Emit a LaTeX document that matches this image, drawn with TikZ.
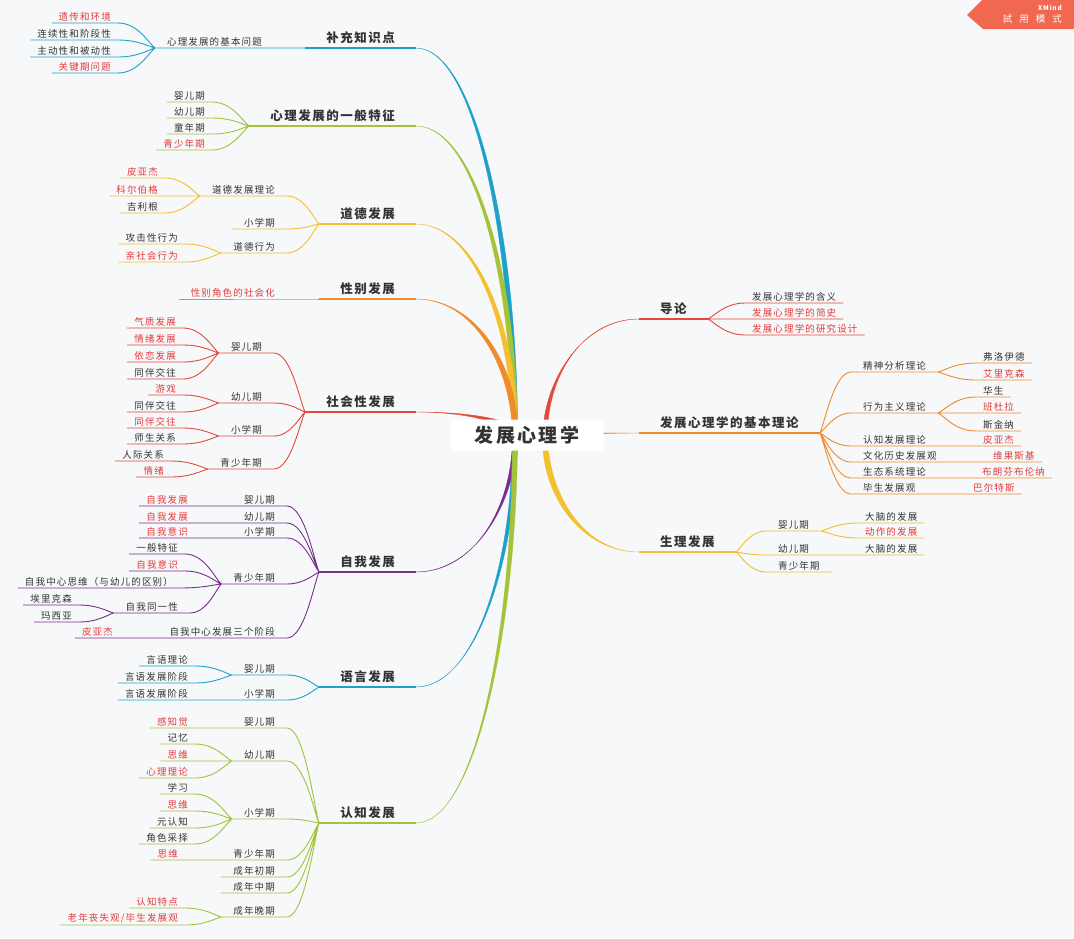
\documentclass[tikz,border=0pt]{standalone}
\usepackage{fontspec}
\setmainfont{Noto Sans CJK SC}[LetterSpace=12]
\usepackage{tikz}
\usetikzlibrary{calc}
\definecolor{ink}{HTML}{333333}
\definecolor{hot}{HTML}{E33B3B}
\definecolor{paper}{HTML}{F7F8FA}
\definecolor{cBlue}{HTML}{1EA1C8}
\definecolor{cLime}{HTML}{A5C23A}
\definecolor{cGold}{HTML}{F4C02F}
\definecolor{cOrange}{HTML}{EF8B2B}
\definecolor{cRed}{HTML}{E24A3B}
\definecolor{cPurple}{HTML}{7B2D8E}
\definecolor{cTag}{HTML}{F2674F}

\begin{document}
\begin{tikzpicture}[x=1pt, y=-1pt,
  every node/.style={text=ink},
  root/.style={fill=white, rounded corners=2pt, minimum width=153pt, minimum height=31pt,
               inner sep=0pt, font=\fontsize{19}{22}\selectfont\bfseries},
  main/.style={inner xsep=21pt, inner ysep=4pt, font=\fontsize{12.5}{15}\selectfont\bfseries},
  sub/.style={inner xsep=12pt, inner ysep=1.5pt, font=\fontsize{9.5}{11}\selectfont},
  leaf/.style={sub, inner xsep=7pt},
  L/.style={anchor=south east}, R/.style={anchor=south west},
  hot/.style={text=hot},
  twig/.style={line width=0.9pt},
  stem/.style={line width=1.4pt},
  fan/.style={to path={.. controls ($(\tikztostart)!0.15!(\tikztotarget)$)
              and ($(\tikztotarget)!0.55!(\tikztostart |- \tikztotarget)$) .. (\tikztotarget)}},
  bough/.style={line width=1.2pt, line join=round, to path={($(\tikztostart)+(-2.5,2.5)$)
              .. controls ($(\tikztostart)!0.5!(\tikztostart |- \tikztotarget)+(-2.5,2.5)$)
              and ($(\tikztotarget)!0.6!(\tikztostart |- \tikztotarget)$) .. (\tikztotarget)
              .. controls ($(\tikztotarget)!0.6!(\tikztostart |- \tikztotarget)$)
              and ($(\tikztostart)!0.5!(\tikztostart |- \tikztotarget)+(2.5,-2.5)$)
              .. ($(\tikztostart)+(2.5,-2.5)$) -- cycle}}]
\useasboundingbox (0,0) rectangle (1074,938);
\fill[paper] (0,0) rectangle (1074,938);
\coordinate (cl) at (515,435);
\coordinate (cr) at (545,437);

\node[main, L] (bz) at (416,48) {补充知识点};
\node[sub, L] (bz1) at (274,48) {心理发展的基本问题};
\node[leaf, L, hot] (bz11) at (118,23) {遗传和环境};
\node[leaf, L] (bz12) at (118,40) {连续性和阶段性};
\node[leaf, L] (bz13) at (118,57) {主动性和被动性};
\node[leaf, L, hot] (bz14) at (118,73) {关键期问题};

\node[main, L] (yb) at (416,126) {心理发展的一般特征};
\node[leaf, L] (yb1) at (212,102) {婴儿期};
\node[leaf, L] (yb2) at (212,118) {幼儿期};
\node[leaf, L] (yb3) at (212,134) {童年期};
\node[leaf, L, hot] (yb4) at (212,150) {青少年期};

\node[main, L] (db) at (416,224) {道德发展};
\node[sub, L] (db1) at (287,196) {道德发展理论};
\node[leaf, L, hot] (db11) at (165,178) {皮亚杰};
\node[leaf, L, hot] (db12) at (165,196) {科尔伯格};
\node[leaf, L] (db13) at (165,213) {吉利根};
\node[sub, L] (db2) at (287,229) {小学期};
\node[sub, L] (db3) at (287,253) {道德行为};
\node[leaf, L] (db31) at (185,244) {攻击性行为};
\node[leaf, L, hot] (db32) at (185,262) {亲社会行为};

\node[main, L] (xb) at (416,299) {性别发展};
\node[sub, L, hot] (xb1) at (287,299) {性别角色的社会化};

\node[main, L] (sh) at (416,412) {社会性发展};
\node[sub, L] (sh1) at (274,353) {婴儿期};
\node[leaf, L, hot] (sh11) at (183,328) {气质发展};
\node[leaf, L, hot] (sh12) at (183,345) {情绪发展};
\node[leaf, L, hot] (sh13) at (183,362) {依恋发展};
\node[leaf, L] (sh14) at (183,379) {同伴交往};
\node[sub, L] (sh2) at (274,403) {幼儿期};
\node[leaf, L, hot] (sh21) at (183,395) {游戏};
\node[leaf, L] (sh22) at (183,412) {同伴交往};
\node[sub, L] (sh3) at (274,436) {小学期};
\node[leaf, L, hot] (sh31) at (183,428) {同伴交往};
\node[leaf, L] (sh32) at (183,444) {师生关系};
\node[sub, L] (sh4) at (274,469) {青少年期};
\node[leaf, L] (sh41) at (171,461) {人际关系};
\node[leaf, L, hot] (sh42) at (171,477) {情绪};

\node[main, L] (zw) at (416,572) {自我发展};
\node[sub, L] (zw1) at (287,506) {婴儿期};
\node[leaf, L, hot] (zw11) at (195,506) {自我发展};
\node[sub, L] (zw2) at (287,523) {幼儿期};
\node[leaf, L, hot] (zw21) at (195,523) {自我发展};
\node[sub, L] (zw3) at (287,538) {小学期};
\node[leaf, L, hot] (zw31) at (195,538) {自我意识};
\node[sub, L] (zw4) at (287,584) {青少年期};
\node[leaf, L] (zw41) at (185,554) {一般特征};
\node[leaf, L, hot] (zw42) at (185,571) {自我意识};
\node[leaf, L] (zw43) at (180,588) {自我中心思维（与幼儿的区别）};
\node[sub, L] (zw44) at (190,613) {自我同一性};
\node[leaf, L] (zw441) at (79,605) {埃里克森};
\node[leaf, L] (zw442) at (79,622) {玛西亚};
\node[sub, L] (zw5) at (287,638) {自我中心发展三个阶段};
\node[leaf, L, hot] (zw51) at (120,638) {皮亚杰};

\node[main, L] (yy) at (416,687) {语言发展};
\node[sub, L] (yy1) at (287,675) {婴儿期};
\node[leaf, L] (yy11) at (195,666) {言语理论};
\node[leaf, L] (yy12) at (195,683) {言语发展阶段};
\node[sub, L] (yy2) at (287,700) {小学期};
\node[leaf, L] (yy21) at (195,700) {言语发展阶段};

\node[main, L] (rz) at (416,823) {认知发展};
\node[sub, L] (rz1) at (287,728) {婴儿期};
\node[leaf, L, hot] (rz11) at (195,728) {感知觉};
\node[sub, L] (rz2) at (287,761) {幼儿期};
\node[leaf, L] (rz21) at (195,744) {记忆};
\node[leaf, L, hot] (rz22) at (195,761) {思维};
\node[leaf, L, hot] (rz23) at (195,778) {心理理论};
\node[sub, L] (rz3) at (287,819) {小学期};
\node[leaf, L] (rz31) at (195,794) {学习};
\node[leaf, L, hot] (rz32) at (195,811) {思维};
\node[leaf, L] (rz33) at (195,828) {元认知};
\node[leaf, L] (rz34) at (195,844) {角色采择};
\node[sub, L] (rz4) at (287,860) {青少年期};
\node[leaf, L, hot] (rz41) at (185,860) {思维};
\node[sub, L] (rz5) at (287,877) {成年初期};
\node[sub, L] (rz6) at (287,893) {成年中期};
\node[sub, L] (rz7) at (287,917) {成年晚期};
\node[leaf, L, hot] (rz71) at (185,908) {认知特点};
\node[leaf, L, hot] (rz72) at (185,925) {老年丧失观/毕生发展观};

\node[main, R] (dl) at (639,319) {导论};
\node[leaf, R] (dl1) at (745,303) {发展心理学的含义};
\node[leaf, R, hot] (dl2) at (745,319) {发展心理学的简史};
\node[leaf, R, hot] (dl3) at (745,335) {发展心理学的研究设计};

\node[main, R] (jb) at (639,433) {发展心理学的基本理论};
\node[sub, R] (jb1) at (851,372) {精神分析理论};
\node[leaf, R] (jb11) at (976,363) {弗洛伊德};
\node[leaf, R, hot] (jb12) at (976,380) {艾里克森};
\node[sub, R] (jb2) at (851,413) {行为主义理论};
\node[leaf, R] (jb21) at (976,397) {华生};
\node[leaf, R, hot] (jb22) at (976,413) {班杜拉};
\node[leaf, R] (jb23) at (976,431) {斯金纳};
\node[sub, R] (jb3) at (851,446) {认知发展理论};
\node[leaf, R, hot] (jb31) at (976,446) {皮亚杰};
\node[sub, R] (jb4) at (851,462) {文化历史发展观};
\node[leaf, R, hot] (jb41) at (986,462) {维果斯基};
\node[sub, R] (jb5) at (851,478) {生态系统理论};
\node[leaf, R, hot] (jb51) at (975,478) {布朗芬布伦纳};
\node[sub, R] (jb6) at (851,494) {毕生发展观};
\node[leaf, R, hot] (jb61) at (966,494) {巴尔特斯};

\node[main, R] (sl) at (639,552) {生理发展};
\node[sub, R] (sl1) at (766,531) {婴儿期};
\node[leaf, R] (sl11) at (858,523) {大脑的发展};
\node[leaf, R, hot] (sl12) at (858,538) {动作的发展};
\node[sub, R] (sl2) at (766,555) {幼儿期};
\node[leaf, R] (sl21) at (858,555) {大脑的发展};
\node[sub, R] (sl3) at (766,572) {青少年期};

\filldraw[cBlue] (cl) to[bough] (bz.south east);
\filldraw[cLime] (cl) to[bough] (yb.south east);
\filldraw[cGold] (cl) to[bough] (db.south east);
\filldraw[cOrange] (cl) to[bough] (xb.south east);
\filldraw[cRed] (cl) to[bough] (sh.south east);
\filldraw[cPurple] (cl) to[bough] (zw.south east);
\filldraw[cBlue] (cl) to[bough] (yy.south east);
\filldraw[cLime] (cl) to[bough] (rz.south east);
\filldraw[cRed] (cr) to[bough] (dl.south west);
\filldraw[cOrange] (cr) to[bough] (jb.south west);
\filldraw[cGold] (cr) to[bough] (sl.south west);

\draw[stem, cBlue] (bz.south east) -- (bz.south west);
\draw[twig, cBlue] (bz.south west) to[fan] (bz1.south east) -- (bz1.south west)
  (bz1.south west) to[fan] (bz11.south east) -- (bz11.south west)
  (bz1.south west) to[fan] (bz12.south east) -- (bz12.south west)
  (bz1.south west) to[fan] (bz13.south east) -- (bz13.south west)
  (bz1.south west) to[fan] (bz14.south east) -- (bz14.south west);

\draw[stem, cLime] (yb.south east) -- (yb.south west);
\draw[twig, cLime] (yb.south west) to[fan] (yb1.south east) -- (yb1.south west)
  (yb.south west) to[fan] (yb2.south east) -- (yb2.south west)
  (yb.south west) to[fan] (yb3.south east) -- (yb3.south west)
  (yb.south west) to[fan] (yb4.south east) -- (yb4.south west);

\draw[stem, cGold] (db.south east) -- (db.south west);
\draw[twig, cGold] (db.south west) to[fan] (db1.south east) -- (db1.south west)
  (db1.south west) to[fan] (db11.south east) -- (db11.south west)
  (db1.south west) to[fan] (db12.south east) -- (db12.south west)
  (db1.south west) to[fan] (db13.south east) -- (db13.south west)
  (db.south west) to[fan] (db2.south east) -- (db2.south west)
  (db.south west) to[fan] (db3.south east) -- (db3.south west)
  (db3.south west) to[fan] (db31.south east) -- (db31.south west)
  (db3.south west) to[fan] (db32.south east) -- (db32.south west);

\draw[stem, cOrange] (xb.south east) -- (xb.south west);
\draw[twig, cOrange] (xb.south west) to[fan] (xb1.south east) -- (xb1.south west);

\draw[stem, cRed] (sh.south east) -- (sh.south west);
\draw[twig, cRed] (sh.south west) to[fan] (sh1.south east) -- (sh1.south west)
  (sh1.south west) to[fan] (sh11.south east) -- (sh11.south west)
  (sh1.south west) to[fan] (sh12.south east) -- (sh12.south west)
  (sh1.south west) to[fan] (sh13.south east) -- (sh13.south west)
  (sh1.south west) to[fan] (sh14.south east) -- (sh14.south west)
  (sh.south west) to[fan] (sh2.south east) -- (sh2.south west)
  (sh2.south west) to[fan] (sh21.south east) -- (sh21.south west)
  (sh2.south west) to[fan] (sh22.south east) -- (sh22.south west)
  (sh.south west) to[fan] (sh3.south east) -- (sh3.south west)
  (sh3.south west) to[fan] (sh31.south east) -- (sh31.south west)
  (sh3.south west) to[fan] (sh32.south east) -- (sh32.south west)
  (sh.south west) to[fan] (sh4.south east) -- (sh4.south west)
  (sh4.south west) to[fan] (sh41.south east) -- (sh41.south west)
  (sh4.south west) to[fan] (sh42.south east) -- (sh42.south west);

\draw[stem, cPurple] (zw.south east) -- (zw.south west);
\draw[twig, cPurple] (zw.south west) to[fan] (zw1.south east) -- (zw1.south west)
  (zw1.south west) -- (zw11.south east) -- (zw11.south west)
  (zw.south west) to[fan] (zw2.south east) -- (zw2.south west)
  (zw2.south west) -- (zw21.south east) -- (zw21.south west)
  (zw.south west) to[fan] (zw3.south east) -- (zw3.south west)
  (zw3.south west) -- (zw31.south east) -- (zw31.south west)
  (zw.south west) to[fan] (zw4.south east) -- (zw4.south west)
  (zw4.south west) to[fan] (zw41.south east) -- (zw41.south west)
  (zw4.south west) to[fan] (zw42.south east) -- (zw42.south west)
  (zw4.south west) to[fan] (zw43.south east) -- (zw43.south west)
  (zw4.south west) to[fan] (zw44.south east) -- (zw44.south west)
  (zw44.south west) to[fan] (zw441.south east) -- (zw441.south west)
  (zw44.south west) to[fan] (zw442.south east) -- (zw442.south west)
  (zw.south west) to[fan] (zw5.south east) -- (zw5.south west)
  (zw5.south west) -- (zw51.south east) -- (zw51.south west);

\draw[stem, cBlue] (yy.south east) -- (yy.south west);
\draw[twig, cBlue] (yy.south west) to[fan] (yy1.south east) -- (yy1.south west)
  (yy1.south west) to[fan] (yy11.south east) -- (yy11.south west)
  (yy1.south west) to[fan] (yy12.south east) -- (yy12.south west)
  (yy.south west) to[fan] (yy2.south east) -- (yy2.south west)
  (yy2.south west) -- (yy21.south east) -- (yy21.south west);

\draw[stem, cLime] (rz.south east) -- (rz.south west);
\draw[twig, cLime] (rz.south west) to[fan] (rz1.south east) -- (rz1.south west)
  (rz1.south west) -- (rz11.south east) -- (rz11.south west)
  (rz.south west) to[fan] (rz2.south east) -- (rz2.south west)
  (rz2.south west) to[fan] (rz21.south east) -- (rz21.south west)
  (rz2.south west) to[fan] (rz22.south east) -- (rz22.south west)
  (rz2.south west) to[fan] (rz23.south east) -- (rz23.south west)
  (rz.south west) to[fan] (rz3.south east) -- (rz3.south west)
  (rz3.south west) to[fan] (rz31.south east) -- (rz31.south west)
  (rz3.south west) to[fan] (rz32.south east) -- (rz32.south west)
  (rz3.south west) to[fan] (rz33.south east) -- (rz33.south west)
  (rz3.south west) to[fan] (rz34.south east) -- (rz34.south west)
  (rz.south west) to[fan] (rz4.south east) -- (rz4.south west)
  (rz4.south west) -- (rz41.south east) -- (rz41.south west)
  (rz.south west) to[fan] (rz5.south east) -- (rz5.south west)
  (rz.south west) to[fan] (rz6.south east) -- (rz6.south west)
  (rz.south west) to[fan] (rz7.south east) -- (rz7.south west)
  (rz7.south west) to[fan] (rz71.south east) -- (rz71.south west)
  (rz7.south west) to[fan] (rz72.south east) -- (rz72.south west);

\draw[stem, cRed] (dl.south west) -- (dl.south east);
\draw[twig, cRed] (dl.south east) to[fan] (dl1.south west) -- (dl1.south east)
  (dl.south east) to[fan] (dl2.south west) -- (dl2.south east)
  (dl.south east) to[fan] (dl3.south west) -- (dl3.south east);

\draw[stem, cOrange] (jb.south west) -- (jb.south east);
\draw[twig, cOrange] (jb.south east) to[fan] (jb1.south west) -- (jb1.south east)
  (jb1.south east) to[fan] (jb11.south west) -- (jb11.south east)
  (jb1.south east) to[fan] (jb12.south west) -- (jb12.south east)
  (jb.south east) to[fan] (jb2.south west) -- (jb2.south east)
  (jb2.south east) to[fan] (jb21.south west) -- (jb21.south east)
  (jb2.south east) to[fan] (jb22.south west) -- (jb22.south east)
  (jb2.south east) to[fan] (jb23.south west) -- (jb23.south east)
  (jb.south east) to[fan] (jb3.south west) -- (jb3.south east)
  (jb3.south east) -- (jb31.south west) -- (jb31.south east)
  (jb.south east) to[fan] (jb4.south west) -- (jb4.south east)
  (jb4.south east) -- (jb41.south west) -- (jb41.south east)
  (jb.south east) to[fan] (jb5.south west) -- (jb5.south east)
  (jb5.south east) -- (jb51.south west) -- (jb51.south east)
  (jb.south east) to[fan] (jb6.south west) -- (jb6.south east)
  (jb6.south east) -- (jb61.south west) -- (jb61.south east);

\draw[stem, cGold] (sl.south west) -- (sl.south east);
\draw[twig, cGold] (sl.south east) to[fan] (sl1.south west) -- (sl1.south east)
  (sl1.south east) to[fan] (sl11.south west) -- (sl11.south east)
  (sl1.south east) to[fan] (sl12.south west) -- (sl12.south east)
  (sl.south east) to[fan] (sl2.south west) -- (sl2.south east)
  (sl2.south east) -- (sl21.south west) -- (sl21.south east)
  (sl.south east) to[fan] (sl3.south west) -- (sl3.south east);

\node[root] (root) at (527,435) {发展心理学};

\fill[cTag] (967,15) -- (982,0) -- (1074,0) -- (1074,29) -- (983,29) -- cycle;
\node[anchor=east, text=white, inner sep=0pt, font=\fontsize{6.5}{7}\selectfont\bfseries] (tag1) at (1062,8) {XMind};
\node[anchor=east, text=white, inner sep=0pt, font=\fontsize{9.5}{10}\selectfont] (tag2) at (1062,19) {試\hspace{7pt}用\hspace{7pt}模\hspace{7pt}式};
\end{tikzpicture}
\end{document}
